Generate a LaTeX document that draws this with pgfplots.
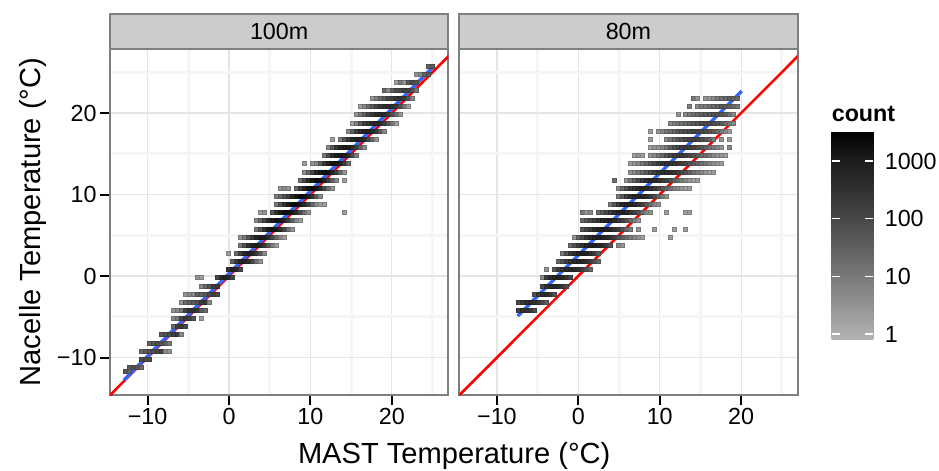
\documentclass[border=0pt]{standalone}
\usepackage{pgfplots}
\pgfplotsset{compat=1.18}
\usepackage{fontspec}
\setmainfont{Liberation Sans}
\newcommand\tfont{\fontsize{23.3bp}{28bp}\selectfont}
\newcommand\lfont{\fontsize{29.1bp}{34bp}\selectfont}
\definecolor{gridA}{RGB}{229,229,229}
\definecolor{gridB}{RGB}{245,245,245}
\definecolor{bord}{RGB}{127,127,127}
\definecolor{stripc}{RGB}{204,204,204}
\definecolor{smoothblue}{RGB}{51,102,255}
\pgfplotsset{
  colormap={cnt}{rgb255(0cm)=(179,179,179); rgb255(1cm)=(155,155,155); rgb255(2cm)=(131,131,131); rgb255(3cm)=(108,108,108); rgb255(4cm)=(86,86,86); rgb255(5cm)=(64,64,64); rgb255(6cm)=(44,44,44); rgb255(7cm)=(26,26,26); rgb255(8cm)=(0,0,0)},
  panel/.style={
    scale only axis, width=338.3bp, height=345.7bp,
    xmin=-14.62, xmax=26.94, ymin=-14.6, ymax=27.82,
    xtick={-10,0,10,20}, ytick={-10,0,10,20},
    xticklabels={−10,0,10,20}, yticklabels={−10,0,10,20},
    minor xtick={-5,5,15,25}, minor ytick={-5,5,15,25},
    grid=both,
    major grid style={draw=gridA, line width=1.2bp},
    minor grid style={draw=gridB, line width=3bp},
    axis line style={draw=bord, line width=2bp},
    tick align=outside, tick pos=left,
    major tick length=10bp, minor tick length=0bp,
    xtick style={black, line width=2bp},
    ytick style={black, line width=2bp},
    minor tick style={draw=none},
    ticklabel style={font=\tfont, text=black},
    colormap name=cnt, point meta min=-0.09, point meta max=3.51,
    every axis title shift=0pt,
    title style={at={(0.5,1)}, anchor=south, fill=stripc, draw=bord, line width=2bp, minimum width=338.3bp, minimum height=35.5bp, inner sep=0pt, outer sep=0pt, font=\tfont},
  },
  tiles/.style={scatter, only marks, mark=square*, mark size=2.0bp, point meta={ln(\thisrow{c})/ln(10)}},
}
\begin{document}
\begin{tikzpicture}
\useasboundingbox (0,0) rectangle (939bp,-471bp);
\begin{axis}[panel, at={(110bp,-395bp)}, anchor=south west, title={100m}]
\addplot[tiles] table[row sep=\\]{x y c\\
24.46 25.8 30\\ 24.95 25.8 40\\
22.99 24.8 3\\ 23.48 24.8 5\\ 23.97 24.8 30\\ 24.46 24.8 40\\
20.54 23.8 2\\ 21.03 23.8 10\\ 21.52 23.8 3\\ 22.01 23.8 40\\ 22.50 23.8 80\\ 22.99 23.8 50\\
19.07 22.8 20\\ 19.56 22.8 4\\ 20.05 22.8 30\\ 20.54 22.8 80\\ 21.03 22.8 100\\ 21.52 22.8 150\\ 22.01 22.8 120\\ 22.50 22.8 60\\ 22.99 22.8 10\\
17.60 21.8 3\\ 18.09 21.8 8\\ 18.58 21.8 20\\ 19.07 21.8 40\\ 19.56 21.8 100\\ 20.05 21.8 150\\ 20.54 21.8 250\\ 21.03 21.8 300\\ 21.52 21.8 200\\ 22.01 21.8 60\\ 22.50 21.8 5\\
16.13 20.8 2\\ 16.62 20.8 5\\ 17.11 20.8 15\\ 17.60 20.8 40\\ 18.09 20.8 100\\ 18.58 20.8 200\\ 19.07 20.8 300\\ 19.56 20.8 400\\ 20.05 20.8 350\\ 20.54 20.8 200\\ 21.03 20.8 60\\ 21.52 20.8 10\\ 22.01 20.8 2\\
15.64 19.8 3\\ 16.13 19.8 10\\ 16.62 19.8 30\\ 17.11 19.8 100\\ 17.60 19.8 200\\ 18.09 19.8 400\\ 18.58 19.8 500\\ 19.07 19.8 400\\ 19.56 19.8 200\\ 20.05 19.8 60\\ 20.54 19.8 15\\ 21.03 19.8 3\\
15.15 18.8 2\\ 15.64 18.8 8\\ 16.13 18.8 40\\ 16.62 18.8 150\\ 17.11 18.8 300\\ 17.60 18.8 500\\ 18.09 18.8 600\\ 18.58 18.8 400\\ 19.07 18.8 150\\ 19.56 18.8 40\\ 20.05 18.8 10\\ 20.54 18.8 2\\
14.66 17.8 5\\ 15.15 17.8 30\\ 15.64 17.8 150\\ 16.13 17.8 400\\ 16.62 17.8 600\\ 17.11 17.8 700\\ 17.60 17.8 500\\ 18.09 17.8 200\\ 18.58 17.8 40\\ 19.07 17.8 5\\
12.70 16.8 2\\ 13.68 16.8 8\\ 14.17 16.8 50\\ 14.66 16.8 200\\ 15.15 16.8 500\\ 15.64 16.8 800\\ 16.13 16.8 700\\ 16.62 16.8 400\\ 17.11 16.8 100\\ 17.60 16.8 20\\ 18.09 16.8 3\\
12.21 15.8 5\\ 12.70 15.8 40\\ 13.19 15.8 200\\ 13.68 15.8 600\\ 14.17 15.8 900\\ 14.66 15.8 900\\ 15.15 15.8 500\\ 15.64 15.8 150\\ 16.13 15.8 30\\ 16.62 15.8 5\\
11.72 14.8 10\\ 12.21 14.8 80\\ 12.70 14.8 400\\ 13.19 14.8 900\\ 13.68 14.8 1200\\ 14.17 14.8 900\\ 14.66 14.8 400\\ 15.15 14.8 80\\ 15.64 14.8 8\\
9.27 13.8 2\\ 10.25 13.8 3\\ 10.74 13.8 5\\ 11.23 13.8 30\\ 11.72 13.8 200\\ 12.21 13.8 700\\ 12.70 13.8 1500\\ 13.19 13.8 1500\\ 13.68 13.8 900\\ 14.17 13.8 200\\ 14.66 13.8 20\\
9.27 12.8 4\\ 9.76 12.8 20\\ 10.25 12.8 100\\ 10.74 12.8 500\\ 11.23 12.8 1200\\ 11.72 12.8 1800\\ 12.21 12.8 1500\\ 12.70 12.8 700\\ 13.19 12.8 150\\ 13.68 12.8 20\\ 14.17 12.8 3\\
8.78 11.8 15\\ 9.27 11.8 100\\ 9.76 11.8 500\\ 10.25 11.8 1300\\ 10.74 11.8 2000\\ 11.23 11.8 1600\\ 11.72 11.8 700\\ 12.21 11.8 150\\ 12.70 11.8 30\\ 13.19 11.8 5\\ 14.17 11.8 2\\
6.33 10.8 3\\ 6.82 10.8 5\\ 7.31 10.8 3\\ 8.29 10.8 20\\ 8.78 10.8 150\\ 9.27 10.8 700\\ 9.76 10.8 1600\\ 10.25 10.8 2000\\ 10.74 10.8 1400\\ 11.23 10.8 500\\ 11.72 10.8 100\\ 12.21 10.8 15\\ 12.70 10.8 3\\
5.84 9.8 8\\ 6.33 9.8 20\\ 6.82 9.8 60\\ 7.31 9.8 150\\ 7.80 9.8 500\\ 8.29 9.8 1200\\ 8.78 9.8 2000\\ 9.27 9.8 1800\\ 9.76 9.8 900\\ 10.25 9.8 250\\ 10.74 9.8 40\\ 11.23 9.8 5\\
5.84 8.8 10\\ 6.33 8.8 60\\ 6.82 8.8 300\\ 7.31 8.8 1000\\ 7.80 8.8 2000\\ 8.29 8.8 2200\\ 8.78 8.8 1300\\ 9.27 8.8 500\\ 9.76 8.8 120\\ 10.25 8.8 25\\ 10.74 8.8 5\\ 11.23 8.8 2\\ 11.72 8.8 2\\
3.88 7.8 2\\ 4.37 7.8 3\\ 5.35 7.8 50\\ 5.84 7.8 300\\ 6.33 7.8 1000\\ 6.82 7.8 1800\\ 7.31 7.8 2000\\ 7.80 7.8 1200\\ 8.29 7.8 400\\ 8.78 7.8 80\\ 9.27 7.8 15\\ 9.76 7.8 3\\ 14.17 7.8 2\\
3.39 6.8 5\\ 3.88 6.8 20\\ 4.37 6.8 100\\ 4.86 6.8 400\\ 5.35 6.8 1000\\ 5.84 6.8 1500\\ 6.33 6.8 1200\\ 6.82 6.8 600\\ 7.31 6.8 150\\ 7.80 6.8 30\\ 8.29 6.8 5\\ 8.78 6.8 2\\
3.39 5.8 10\\ 3.88 5.8 50\\ 4.37 5.8 300\\ 4.86 5.8 900\\ 5.35 5.8 1400\\ 5.84 5.8 1200\\ 6.33 5.8 500\\ 6.82 5.8 100\\ 7.31 5.8 15\\ 7.80 5.8 3\\
1.43 4.8 3\\ 1.92 4.8 10\\ 2.41 4.8 50\\ 2.90 4.8 200\\ 3.39 4.8 600\\ 3.88 4.8 1000\\ 4.37 4.8 900\\ 4.86 4.8 400\\ 5.35 4.8 100\\ 5.84 4.8 20\\ 6.33 4.8 5\\ 6.82 4.8 2\\
1.43 3.8 10\\ 1.92 3.8 60\\ 2.41 3.8 300\\ 2.90 3.8 700\\ 3.39 3.8 900\\ 3.88 3.8 600\\ 4.37 3.8 200\\ 4.86 3.8 40\\ 5.35 3.8 8\\ 5.84 3.8 2\\
-0.04 2.8 2\\ 0.94 2.8 20\\ 1.43 2.8 150\\ 1.92 2.8 500\\ 2.41 2.8 800\\ 2.90 2.8 600\\ 3.39 2.8 200\\ 3.88 2.8 40\\ 4.37 2.8 5\\
0.45 1.8 30\\ 0.94 1.8 200\\ 1.43 1.8 600\\ 1.92 1.8 700\\ 2.41 1.8 400\\ 2.90 1.8 100\\ 3.39 1.8 15\\ 3.88 1.8 3\\
-0.04 0.8 300\\ 0.45 0.8 700\\ 0.94 0.8 500\\ 1.43 0.8 100\\
-3.96 -0.2 3\\ -3.47 -0.2 2\\ -1.51 -0.2 100\\ -1.02 -0.2 400\\ -0.53 -0.2 700\\ -0.04 -0.2 500\\ 0.45 -0.2 100\\
-3.47 -1.2 5\\ -2.98 -1.2 20\\ -2.49 -1.2 60\\ -2.00 -1.2 150\\ -1.51 -1.2 200\\
-5.43 -2.2 3\\ -4.94 -2.2 5\\ -4.45 -2.2 5\\ -3.96 -2.2 30\\ -3.47 -2.2 30\\ -2.98 -2.2 40\\ -2.49 -2.2 100\\ -2.00 -2.2 150\\ -1.51 -2.2 100\\
-5.92 -3.2 3\\ -5.43 -3.2 20\\ -4.94 -3.2 30\\ -4.45 -3.2 40\\ -3.96 -3.2 60\\ -3.47 -3.2 200\\ -2.98 -3.2 200\\ -2.49 -3.2 5\\
-6.90 -4.2 3\\ -6.41 -4.2 5\\ -5.92 -4.2 10\\ -5.43 -4.2 150\\ -4.94 -4.2 300\\ -4.45 -4.2 300\\ -3.96 -4.2 200\\ -3.47 -4.2 40\\ -2.98 -4.2 20\\
-6.90 -5.2 5\\ -6.41 -5.2 10\\ -5.92 -5.2 100\\ -5.43 -5.2 200\\ -4.94 -5.2 150\\ -4.45 -5.2 60\\ -3.47 -5.2 2\\
-6.90 -6.2 20\\ -6.41 -6.2 150\\ -5.92 -6.2 200\\ -5.43 -6.2 100\\
-8.37 -7.2 40\\ -7.88 -7.2 60\\ -7.39 -7.2 80\\ -6.90 -7.2 150\\ -6.41 -7.2 150\\ -5.92 -7.2 5\\
-9.84 -8.2 30\\ -9.35 -8.2 60\\ -8.86 -8.2 80\\ -8.37 -8.2 60\\ -7.88 -8.2 30\\ -7.39 -8.2 10\\
-10.82 -9.2 20\\ -10.33 -9.2 40\\ -9.84 -9.2 60\\ -9.35 -9.2 80\\ -8.86 -9.2 100\\ -8.37 -9.2 120\\ -7.88 -9.2 5\\ -7.39 -9.2 3\\
-10.82 -10.2 80\\ -10.33 -10.2 100\\ -9.84 -10.2 80\\
-12.29 -11.2 40\\ -11.80 -11.2 60\\ -11.31 -11.2 50\\ -10.82 -11.2 20\\
-12.78 -11.7 50\\ -12.29 -11.7 30\\
};
\addplot[red, line width=2.6bp] coordinates {(-15,-15) (28,28)};
\addplot[smoothblue, line width=3.4bp] coordinates {(-12.9,-12.76) (25.1,25.7)};
\end{axis}
\begin{axis}[panel, at={(459.3bp,-395bp)}, anchor=south west, title={80m},
  yticklabels={}, ytick style={draw=none},
  colorbar,
  colorbar/width=41.7bp,
  colorbar shift/.style={xshift=0pt},
  colorbar style={
    at={(parent axis.north east)}, anchor=north west, xshift=34bp, yshift=-82.4bp,
    scale only axis, width=41.7bp, height=207.6bp,
    axis line style={draw=none},
    axis on top,
    ytick={0,1,2,3}, yticklabels={1,10,100,1000},
    ytick pos=both, yticklabel pos=right, ytick align=inside,
    major tick length=8.7bp,
    major tick style={draw=white, line width=1.4bp},
    ytick style={draw=white, line width=1.4bp},
    yticklabel style={font=\tfont, text=black, xshift=8bp},
    every axis title shift=0pt,
    title={count},
    title style={at={(0,1)}, anchor=south west, yshift=9.7bp, inner sep=0pt, font=\tfont\bfseries},
  }]
\addplot[tiles] table[row sep=\\]{x y c\\
14.17 21.8 10\\ 14.66 21.8 3\\ 15.64 21.8 3\\ 16.13 21.8 3\\ 16.62 21.8 5\\ 17.11 21.8 10\\ 17.60 21.8 15\\ 18.09 21.8 20\\ 18.58 21.8 30\\ 19.07 21.8 30\\ 19.56 21.8 20\\
13.68 20.8 8\\ 14.66 20.8 5\\ 15.15 20.8 10\\ 15.64 20.8 10\\ 16.13 20.8 15\\ 16.62 20.8 20\\ 17.11 20.8 30\\ 17.60 20.8 40\\ 18.09 20.8 40\\ 18.58 20.8 30\\ 19.07 20.8 20\\ 19.56 20.8 10\\
12.21 19.8 3\\ 13.19 19.8 5\\ 13.68 19.8 10\\ 14.17 19.8 15\\ 14.66 19.8 20\\ 15.15 19.8 30\\ 15.64 19.8 40\\ 16.13 19.8 50\\ 16.62 19.8 60\\ 17.11 19.8 60\\ 17.60 19.8 50\\ 18.09 19.8 30\\ 18.58 19.8 15\\ 19.07 19.8 5\\
11.23 18.8 5\\ 11.72 18.8 8\\ 12.21 18.8 10\\ 12.70 18.8 15\\ 13.19 18.8 20\\ 13.68 18.8 30\\ 14.17 18.8 40\\ 14.66 18.8 60\\ 15.15 18.8 80\\ 15.64 18.8 100\\ 16.13 18.8 100\\ 16.62 18.8 80\\ 17.11 18.8 60\\ 17.60 18.8 40\\ 18.09 18.8 20\\ 18.58 18.8 10\\ 19.07 18.8 5\\
8.78 17.8 2\\ 9.76 17.8 3\\ 10.25 17.8 5\\ 10.74 17.8 10\\ 11.23 17.8 15\\ 11.72 17.8 25\\ 12.21 17.8 40\\ 12.70 17.8 60\\ 13.19 17.8 80\\ 13.68 17.8 100\\ 14.17 17.8 120\\ 14.66 17.8 120\\ 15.15 17.8 100\\ 15.64 17.8 80\\ 16.13 17.8 60\\ 16.62 17.8 40\\ 17.11 17.8 20\\ 17.60 17.8 10\\ 18.09 17.8 5\\ 18.58 17.8 2\\
8.78 16.8 2\\ 10.74 16.8 5\\ 11.23 16.8 10\\ 11.72 16.8 20\\ 12.21 16.8 40\\ 12.70 16.8 60\\ 13.19 16.8 100\\ 13.68 16.8 120\\ 14.17 16.8 150\\ 14.66 16.8 120\\ 15.15 16.8 80\\ 15.64 16.8 50\\ 16.13 16.8 25\\ 16.62 16.8 10\\ 17.60 16.8 3\\ 18.58 16.8 2\\
8.78 15.8 2\\ 9.27 15.8 3\\ 9.76 15.8 3\\ 10.25 15.8 5\\ 10.74 15.8 10\\ 11.23 15.8 30\\ 11.72 15.8 60\\ 12.21 15.8 100\\ 12.70 15.8 150\\ 13.19 15.8 180\\ 13.68 15.8 150\\ 14.17 15.8 120\\ 14.66 15.8 80\\ 15.15 15.8 50\\ 15.64 15.8 30\\ 16.13 15.8 15\\ 16.62 15.8 8\\ 17.11 15.8 5\\ 17.60 15.8 3\\ 18.58 15.8 5\\
6.82 14.8 2\\ 7.31 14.8 3\\ 7.80 14.8 2\\ 8.78 14.8 3\\ 9.27 14.8 5\\ 9.76 14.8 10\\ 10.25 14.8 20\\ 10.74 14.8 50\\ 11.23 14.8 100\\ 11.72 14.8 150\\ 12.21 14.8 200\\ 12.70 14.8 200\\ 13.19 14.8 150\\ 13.68 14.8 100\\ 14.17 14.8 60\\ 14.66 14.8 40\\ 15.15 14.8 20\\ 15.64 14.8 15\\ 16.13 14.8 10\\ 16.62 14.8 5\\ 17.11 14.8 3\\ 17.60 14.8 3\\ 18.09 14.8 2\\
6.33 13.8 2\\ 6.82 13.8 3\\ 7.31 13.8 5\\ 7.80 13.8 10\\ 8.29 13.8 20\\ 8.78 13.8 40\\ 9.27 13.8 80\\ 9.76 13.8 150\\ 10.25 13.8 250\\ 10.74 13.8 300\\ 11.23 13.8 300\\ 11.72 13.8 250\\ 12.21 13.8 200\\ 12.70 13.8 150\\ 13.19 13.8 100\\ 13.68 13.8 60\\ 14.17 13.8 40\\ 14.66 13.8 25\\ 15.15 13.8 15\\ 15.64 13.8 10\\ 16.13 13.8 6\\ 16.62 13.8 4\\ 17.11 13.8 3\\ 17.60 13.8 2\\
6.33 12.8 3\\ 6.82 12.8 5\\ 7.31 12.8 10\\ 7.80 12.8 20\\ 8.29 12.8 40\\ 8.78 12.8 80\\ 9.27 12.8 150\\ 9.76 12.8 250\\ 10.25 12.8 350\\ 10.74 12.8 400\\ 11.23 12.8 350\\ 11.72 12.8 250\\ 12.21 12.8 150\\ 12.70 12.8 100\\ 13.19 12.8 60\\ 13.68 12.8 30\\ 14.17 12.8 15\\ 14.66 12.8 8\\ 15.15 12.8 5\\ 15.64 12.8 3\\ 16.13 12.8 2\\ 16.62 12.8 2\\
4.37 11.8 15\\ 5.84 11.8 3\\ 6.33 11.8 10\\ 6.82 11.8 30\\ 7.31 11.8 80\\ 7.80 11.8 200\\ 8.29 11.8 400\\ 8.78 11.8 500\\ 9.27 11.8 450\\ 9.76 11.8 350\\ 10.25 11.8 200\\ 10.74 11.8 120\\ 11.23 11.8 60\\ 11.72 11.8 30\\ 12.21 11.8 15\\ 12.70 11.8 8\\ 13.19 11.8 5\\ 13.68 11.8 3\\ 14.17 11.8 2\\ 14.66 11.8 2\\
4.86 10.8 5\\ 5.35 10.8 20\\ 5.84 10.8 60\\ 6.33 10.8 150\\ 6.82 10.8 300\\ 7.31 10.8 500\\ 7.80 10.8 600\\ 8.29 10.8 500\\ 8.78 10.8 350\\ 9.27 10.8 200\\ 9.76 10.8 100\\ 10.25 10.8 50\\ 10.74 10.8 25\\ 11.23 10.8 12\\ 11.72 10.8 6\\ 12.21 10.8 4\\ 12.70 10.8 3\\ 13.19 10.8 2\\ 13.68 10.8 2\\
4.86 9.8 10\\ 5.35 9.8 40\\ 5.84 9.8 150\\ 6.33 9.8 350\\ 6.82 9.8 600\\ 7.31 9.8 700\\ 7.80 9.8 600\\ 8.29 9.8 400\\ 8.78 9.8 200\\ 9.27 9.8 80\\ 9.76 9.8 30\\ 10.25 9.8 10\\ 10.74 9.8 3\\
3.88 8.8 10\\ 4.37 8.8 50\\ 4.86 8.8 200\\ 5.35 8.8 450\\ 5.84 8.8 700\\ 6.33 8.8 700\\ 6.82 8.8 500\\ 7.31 8.8 300\\ 7.80 8.8 120\\ 8.29 8.8 40\\ 8.78 8.8 15\\ 9.27 8.8 5\\ 9.76 8.8 3\\
0.45 7.8 10\\ 0.94 7.8 3\\ 1.43 7.8 5\\ 2.41 7.8 20\\ 2.90 7.8 40\\ 3.39 7.8 100\\ 3.88 7.8 200\\ 4.37 7.8 400\\ 4.86 7.8 600\\ 5.35 7.8 700\\ 5.84 7.8 500\\ 6.33 7.8 300\\ 6.82 7.8 150\\ 7.31 7.8 60\\ 7.80 7.8 20\\ 8.29 7.8 5\\ 8.78 7.8 3\\ 10.74 7.8 2\\ 13.19 7.8 2\\ 13.68 7.8 2\\
0.45 6.8 20\\ 0.94 6.8 40\\ 1.43 6.8 80\\ 1.92 6.8 150\\ 2.41 6.8 300\\ 2.90 6.8 500\\ 3.39 6.8 700\\ 3.88 6.8 700\\ 4.37 6.8 500\\ 4.86 6.8 300\\ 5.35 6.8 150\\ 5.84 6.8 60\\ 6.33 6.8 20\\ 6.82 6.8 8\\ 7.31 6.8 3\\
0.45 5.8 50\\ 0.94 5.8 100\\ 1.43 5.8 200\\ 1.92 5.8 400\\ 2.41 5.8 600\\ 2.90 5.8 800\\ 3.39 5.8 700\\ 3.88 5.8 500\\ 4.37 5.8 300\\ 4.86 5.8 150\\ 5.35 5.8 60\\ 5.84 5.8 20\\ 6.33 5.8 8\\ 7.31 5.8 3\\ 9.27 5.8 2\\ 11.72 5.8 2\\ 13.19 5.8 2\\
-0.53 4.8 3\\ -0.04 4.8 30\\ 0.45 4.8 80\\ 0.94 4.8 200\\ 1.43 4.8 400\\ 1.92 4.8 700\\ 2.41 4.8 800\\ 2.90 4.8 700\\ 3.39 4.8 500\\ 3.88 4.8 300\\ 4.37 4.8 150\\ 4.86 4.8 60\\ 5.35 4.8 30\\ 5.84 4.8 15\\ 6.33 4.8 8\\ 6.82 4.8 5\\ 7.31 4.8 3\\ 7.80 4.8 2\\ 11.23 4.8 2\\
-1.02 3.8 20\\ -0.53 3.8 60\\ -0.04 3.8 150\\ 0.45 3.8 300\\ 0.94 3.8 600\\ 1.43 3.8 800\\ 1.92 3.8 800\\ 2.41 3.8 600\\ 2.90 3.8 400\\ 3.39 3.8 200\\ 3.88 3.8 60\\ 4.86 3.8 5\\ 5.35 3.8 3\\
-2.00 2.8 10\\ -1.51 2.8 60\\ -1.02 2.8 200\\ -0.53 2.8 400\\ -0.04 2.8 700\\ 0.45 2.8 800\\ 0.94 2.8 600\\ 1.43 2.8 400\\ 1.92 2.8 150\\ 2.41 2.8 40\\
-2.49 1.8 20\\ -2.00 1.8 60\\ -1.51 1.8 150\\ -1.02 1.8 300\\ -0.53 1.8 500\\ -0.04 1.8 600\\ 0.45 1.8 500\\ 0.94 1.8 300\\ 1.43 1.8 150\\ 1.92 1.8 60\\ 2.41 1.8 20\\
-3.96 0.8 3\\ -2.98 0.8 40\\ -2.49 0.8 150\\ -2.00 0.8 300\\ -1.51 0.8 500\\ -1.02 0.8 600\\ -0.53 0.8 500\\ -0.04 0.8 300\\ 0.45 0.8 150\\ 0.94 0.8 60\\ 1.43 0.8 20\\
-4.45 -0.2 5\\ -3.96 -0.2 150\\ -3.47 -0.2 400\\ -2.98 -0.2 600\\ -2.49 -0.2 700\\ -2.00 -0.2 500\\ -1.51 -0.2 300\\ -1.02 -0.2 100\\
-4.45 -1.2 100\\ -3.96 -1.2 300\\ -3.47 -1.2 500\\ -2.98 -1.2 500\\ -2.49 -1.2 400\\ -2.00 -1.2 200\\ -1.51 -1.2 80\\
-5.43 -2.2 60\\ -4.94 -2.2 200\\ -4.45 -2.2 400\\ -3.96 -2.2 400\\ -3.47 -2.2 200\\ -2.98 -2.2 60\\
-7.39 -3.2 100\\ -6.90 -3.2 200\\ -6.41 -3.2 300\\ -5.92 -3.2 400\\ -5.43 -3.2 300\\ -4.94 -3.2 200\\ -4.45 -3.2 100\\ -3.96 -3.2 30\\
-7.39 -4.2 150\\ -6.90 -4.2 300\\ -6.41 -4.2 300\\ -5.92 -4.2 200\\ -5.43 -4.2 80\\
};
\addplot[red, line width=2.6bp] coordinates {(-15,-15) (28,28)};
\addplot[smoothblue, line width=3.4bp] coordinates {(-7.45,-4.91) (20.07,22.7)};
\end{axis}
\node[font=\lfont, anchor=base] at (454.2bp,-463.3bp) {MAST Temperature (°C)};
\node[font=\lfont, rotate=90, anchor=base] at (40bp,-222bp) {Nacelle Temperature (°C)};
\end{tikzpicture}
\end{document}
